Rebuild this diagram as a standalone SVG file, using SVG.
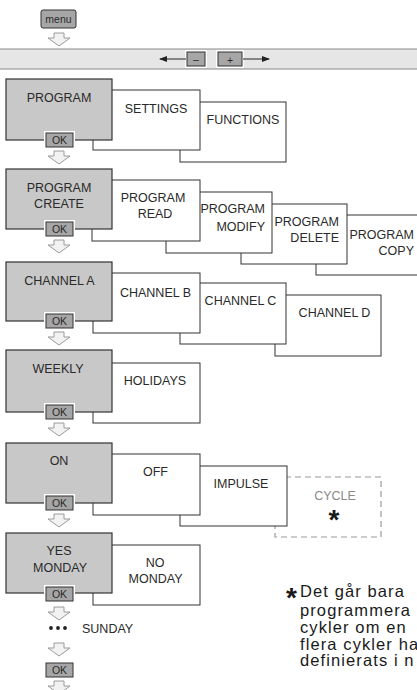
<svg xmlns="http://www.w3.org/2000/svg" xmlns:xlink="http://www.w3.org/1999/xlink" width="417" height="690" viewBox="0 0 417 690">
<style>
text{font-family:"Liberation Sans",Arial,Helvetica,sans-serif;font-size:12.5px;fill:#2a2a2a}
.main{fill:#c8c8c8;stroke:#333;stroke-width:1.2}
.sub{fill:#fff;stroke:#333;stroke-width:1}
.dash{fill:#fff;stroke:#9a9a9a;stroke-width:1.2;stroke-dasharray:6 4}
.btn{fill:#a6a6a6;stroke:#333;stroke-width:1}
.halo{fill:#fff}
.arr{fill:#f2f2f2;stroke:#9a9a9a;stroke-width:1}
.c{text-anchor:middle}
.e{text-anchor:end}
.small{font-size:10.5px}
.note{font-size:16.5px;letter-spacing:1.1px;fill:#1a1a1a}
.star{font-size:28px;font-weight:bold;fill:#1a1a1a}
</style>
<defs>
<path id="down" class="arr" d="M-5,0 H5 V5 H11 L0,13 L-11,5 H-5 Z"/>
<marker id="ah" markerWidth="8" markerHeight="6" refX="7" refY="3" orient="auto" markerUnits="userSpaceOnUse">
<path d="M0,0 L8,3 L0,6 Z" fill="#222"/>
</marker>
</defs>

<g id="menu">
<rect x="41" y="10" width="35" height="18" rx="2" class="btn"/>
<text x="58.5" y="23" class="c small">menu</text>
</g>

<g id="nav-bar">
<rect x="-2" y="49" width="421" height="20" fill="#e6e6e6" stroke="#8a8a8a" stroke-width="1"/>
<rect x="185" y="50" width="22" height="18" class="halo"/>
<rect x="187" y="52" width="18" height="14" class="btn"/>
<text x="196" y="63" class="c small">–</text>
<rect x="216" y="50" width="28" height="18" class="halo"/>
<rect x="218" y="52" width="24" height="14" class="btn"/>
<text x="230" y="63.5" class="c small">+</text>
</g>

<!-- row 1 -->
<g id="functions"><rect x="180" y="102" width="106" height="60" class="sub"/><text x="243" y="124" class="c">FUNCTIONS</text></g>
<g id="settings"><rect x="93" y="90" width="107" height="60" class="sub"/><text x="156" y="113" class="c">SETTINGS</text></g>
<g id="program"><rect x="6" y="79" width="106" height="61" class="main"/><text x="59" y="102" class="c">PROGRAM</text>
<rect x="44" y="131" width="31" height="18" class="halo"/><rect x="46" y="133" width="27" height="14" class="btn"/><text x="59.5" y="144" class="c small">OK</text></g>

<!-- row 2 -->
<g id="program-copy"><rect x="316" y="215" width="110" height="60" class="sub"/><text x="414" y="239" class="e">PROGRAM</text><text x="414" y="255" class="e">COPY</text></g>
<g id="program-delete"><rect x="241" y="204" width="106" height="60" class="sub"/><text x="339" y="226" class="e">PROGRAM</text><text x="339" y="242" class="e">DELETE</text></g>
<g id="program-modify"><rect x="166" y="192" width="106" height="61" class="sub"/><text x="265" y="213" class="e">PROGRAM</text><text x="265" y="230.5" class="e">MODIFY</text></g>
<g id="program-read"><rect x="92" y="180" width="108" height="61" class="sub"/><text x="153" y="202" class="c">PROGRAM</text><text x="155" y="218" class="c">READ</text></g>
<g id="program-create"><rect x="6" y="169" width="106" height="60" class="main"/><text x="59" y="192" class="c">PROGRAM</text><text x="59" y="208" class="c">CREATE</text>
<rect x="44" y="220" width="31" height="18" class="halo"/><rect x="46" y="222" width="27" height="14" class="btn"/><text x="59.5" y="233" class="c small">OK</text></g>

<!-- row 3 -->
<g id="channel-d"><rect x="275" y="295" width="106" height="61" class="sub"/><text x="334.5" y="317" class="c">CHANNEL D</text></g>
<g id="channel-c"><rect x="180" y="283" width="106" height="61" class="sub"/><text x="240.5" y="305" class="c">CHANNEL C</text></g>
<g id="channel-b"><rect x="93" y="273" width="107" height="60" class="sub"/><text x="155.5" y="297" class="c">CHANNEL B</text></g>
<g id="channel-a"><rect x="6" y="262" width="106" height="59" class="main"/><text x="59.5" y="285" class="c">CHANNEL A</text>
<rect x="44" y="312" width="31" height="18" class="halo"/><rect x="46" y="314" width="27" height="14" class="btn"/><text x="59.5" y="325" class="c small">OK</text></g>

<!-- row 4 -->
<g id="holidays"><rect x="93" y="363" width="107" height="60" class="sub"/><text x="155" y="385" class="c">HOLIDAYS</text></g>
<g id="weekly"><rect x="6" y="350" width="106" height="62" class="main"/><text x="58" y="373" class="c">WEEKLY</text>
<rect x="44" y="403" width="31" height="18" class="halo"/><rect x="46" y="405" width="27" height="14" class="btn"/><text x="59.5" y="416" class="c small">OK</text></g>

<!-- row 5 -->
<g id="cycle"><rect x="275" y="477" width="106" height="60" class="dash"/><text x="335" y="500" class="c" style="fill:#8a8a8a">CYCLE</text><text x="334" y="528.5" class="c star">*</text></g>
<g id="impulse"><rect x="180" y="466" width="107" height="60" class="sub"/><text x="241" y="488" class="c">IMPULSE</text></g>
<g id="off"><rect x="93" y="454" width="107" height="61" class="sub"/><text x="155.5" y="476" class="c">OFF</text></g>
<g id="on"><rect x="6" y="443" width="106" height="60" class="main"/><text x="59" y="465" class="c">ON</text>
<rect x="44" y="494" width="31" height="18" class="halo"/><rect x="46" y="496" width="27" height="14" class="btn"/><text x="59.5" y="507" class="c small">OK</text></g>

<!-- row 6 -->
<g id="no-monday"><rect x="93" y="545" width="107" height="60" class="sub"/><text x="155" y="567" class="c">NO</text><text x="155.5" y="583" class="c">MONDAY</text></g>
<g id="yes-monday"><rect x="6" y="533" width="106" height="60" class="main"/><text x="59" y="555" class="c">YES</text><text x="60" y="572" class="c">MONDAY</text>
<rect x="44" y="585" width="31" height="18" class="halo"/><rect x="46" y="587" width="27" height="14" class="btn"/><text x="59.5" y="598" class="c small">OK</text></g>

<g id="sunday">
<circle cx="51" cy="628" r="1.9" fill="#222"/><circle cx="58" cy="628" r="1.9" fill="#222"/><circle cx="65" cy="628" r="1.9" fill="#222"/>
<text x="82" y="633">SUNDAY</text>
</g>

<g id="ok-final">
<rect x="44" y="661" width="31" height="18" class="halo"/><rect x="46" y="663" width="27" height="14" class="btn"/><text x="59.5" y="674" class="c small">OK</text>
</g>

<g id="connectors">
<use xlink:href="#down" href="#down" x="59" y="33"/>
<use xlink:href="#down" href="#down" x="59" y="151"/>
<use xlink:href="#down" href="#down" x="59" y="240"/>
<use xlink:href="#down" href="#down" x="59" y="332"/>
<use xlink:href="#down" href="#down" x="59" y="423"/>
<use xlink:href="#down" href="#down" x="59" y="514"/>
<use xlink:href="#down" href="#down" x="59" y="607"/>
<use xlink:href="#down" href="#down" x="59" y="643"/>
<use xlink:href="#down" href="#down" x="59" y="681"/>
<line x1="186" y1="59" x2="160" y2="59" stroke="#222" stroke-width="1" marker-end="url(#ah)"/>
<line x1="243" y1="59" x2="269" y2="59" stroke="#222" stroke-width="1" marker-end="url(#ah)"/>
</g>

<g id="footnote">
<text x="286" y="607" class="star">*</text>
<text class="note"><tspan x="300" y="597">Det går bara</tspan><tspan x="300" y="616">programmera</tspan><tspan x="300" y="633">cykler om en</tspan><tspan x="300" y="649.5">flera cykler ha</tspan><tspan x="300" y="666">definierats i n</tspan></text>
</g>
</svg>
